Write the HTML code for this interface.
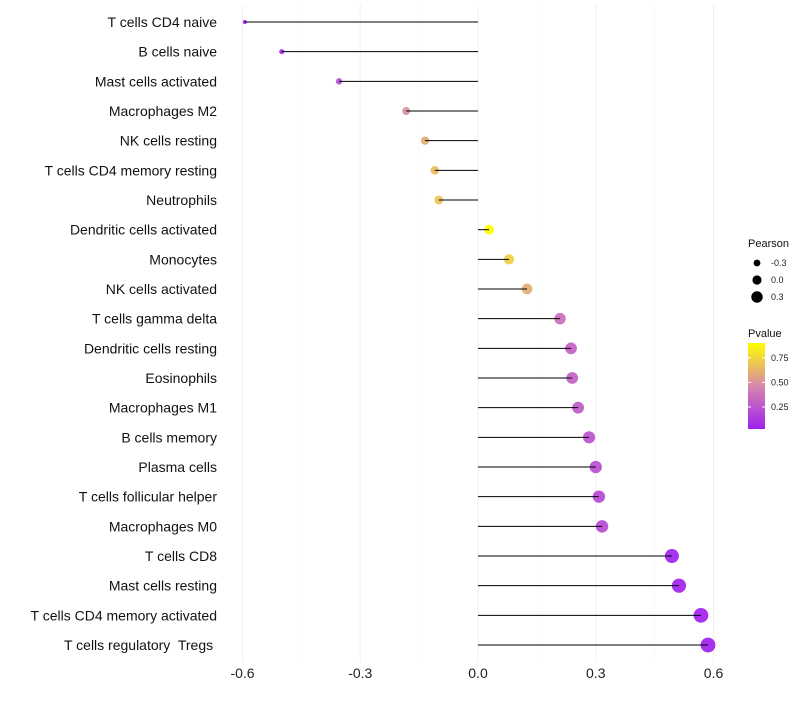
<!DOCTYPE html>
<html><head><meta charset="utf-8"><style>
body{margin:0;background:#fff;font-family:"Liberation Sans",sans-serif}
text{white-space:pre}
</style></head><body>
<svg id="c" width="800" height="700" xmlns="http://www.w3.org/2000/svg" font-family="Liberation Sans, sans-serif"></svg>
<script>
const categories=["T cells CD4 naive","B cells naive","Mast cells activated","Macrophages M2","NK cells resting","T cells CD4 memory resting","Neutrophils","Dendritic cells activated","Monocytes","NK cells activated","T cells gamma delta","Dendritic cells resting","Eosinophils","Macrophages M1","B cells memory","Plasma cells","T cells follicular helper","Macrophages M0","T cells CD8","Mast cells resting","T cells CD4 memory activated","T cells regulatory  Tregs "];
const pearson=[-0.594,-0.50,-0.354,-0.183,-0.135,-0.11,-0.10,0.028,0.079,0.125,0.209,0.237,0.24,0.255,0.283,0.30,0.308,0.316,0.494,0.512,0.568,0.586];
const pvalues=[0.03,0.06,0.22,0.5,0.6,0.65,0.68,0.9,0.72,0.6,0.35,0.3,0.3,0.27,0.24,0.22,0.2,0.19,0.04,0.035,0.03,0.03];
const xTicks=[-0.6,-0.3,0.0,0.3,0.6];
const xTickLabels=["-0.6","-0.3","0.0","0.3","0.6"];
const sizeLegend=[-0.3,0.0,0.3];
const colorTicks=[0.25,0.5,0.75];

const svg=document.getElementById('c');
const NS='http://www.w3.org/2000/svg';
function mk(t,a,p){const e=document.createElementNS(NS,t);for(const k in a)e.setAttribute(k,a[k]);(p||svg).appendChild(e);return e;}
const x=v=>478+v*392.5;
const y=i=>22+i*29.667;
const r=v=>4.8+4.5*v;
const pMin=0.026,pMax=0.9;
function lerp(a,b,t){return a.map((v,i)=>Math.round(v+(b[i]-v)*t));}
function col(p){let t=Math.max(0,Math.min(1,(p-pMin)/(pMax-pMin)));
const s0=[160,32,240],s1=[215,135,170],s2=[255,255,0];
const c=t<0.5?lerp(s0,s1,t/0.5):lerp(s1,s2,(t-0.5)/0.5);return `rgb(${c})`;}

[-0.45,-0.15,0.15,0.45].forEach(v=>{const l=mk('line',{x1:x(v),x2:x(v),y1:5,y2:662,stroke:'#f7f7f7','stroke-width':0.6});});
xTicks.forEach((v,i)=>{const l=mk('line',{x1:x(v),x2:x(v),y1:5,y2:662,stroke:'#f0f0f0','stroke-width':1});
const t=mk('text',{x:x(v),y:678,'text-anchor':'middle','font-size':14,fill:'#222'});t.textContent=xTickLabels[i];});

categories.forEach((c,i)=>{
const t=mk('text',{x:217,y:y(i)+5,'text-anchor':'end','font-size':14,fill:'#111','xml:space':'preserve'});t.textContent=c;
const d=mk('circle',{cx:x(pearson[i]),cy:y(i),r:r(pearson[i]),fill:col(pvalues[i]),'fill-opacity':0.92});
const l=mk('line',{x1:x(0),x2:x(pearson[i]),y1:y(i),y2:y(i),stroke:'#000','stroke-width':1});
});

const lt=mk('text',{x:748,y:247,'font-size':11,fill:'#111'});lt.textContent='Pearson';
sizeLegend.forEach((v,i)=>{const yy=263+i*17;
const d=mk('circle',{cx:757,cy:yy,r:r(v)*0.85+0.5,fill:'#000'});
const t=mk('text',{x:771,y:yy+3,'font-size':9,fill:'#222'});t.textContent=v.toFixed(1);});

const ct=mk('text',{x:748,y:337,'font-size':11,fill:'#111'});ct.textContent='Pvalue';
const defs=mk('defs',{});const g=mk('linearGradient',{id:'pg',x1:0,y1:1,x2:0,y2:0},defs);
for(let k=0;k<=10;k++){mk('stop',{offset:k/10,'stop-color':col(pMin+(pMax-pMin)*k/10)},g);}
const bar=mk('rect',{x:748,y:343,width:17,height:86,fill:'url(#pg)'});
const cy=p=>429-(p-pMin)/(pMax-pMin)*86;
colorTicks.forEach(v=>{mk('line',{x1:748,x2:751,y1:cy(v),y2:cy(v),stroke:'#fff'});mk('line',{x1:762,x2:765,y1:cy(v),y2:cy(v),stroke:'#fff'});
const t=mk('text',{x:771,y:cy(v)+3,'font-size':9,fill:'#222'});t.textContent=v.toFixed(2);});
</script>
</body></html>
